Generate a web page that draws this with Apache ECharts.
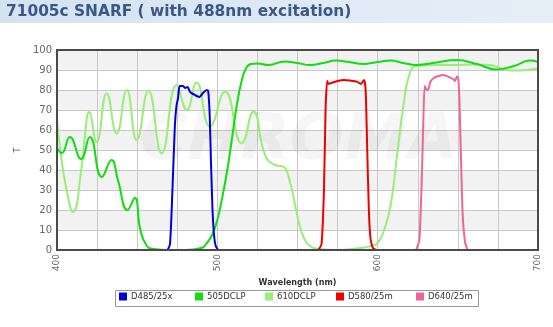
<!DOCTYPE html>
<html>
<head>
<meta charset="utf-8">
<script src="https://cdn.jsdelivr.net/npm/echarts@6/dist/echarts.min.js"></script>
<style>html,body{margin:0;padding:0;background:#fff}#c{width:553px;height:327px}</style>
</head>
<body>
<div id="c"></div>
<script>
const seriesNames = ['D485/25x', '505DCLP', '610DCLP', 'D580/25m', 'D640/25m'];
const seriesColors = ['#0000dd', '#11dd11', '#99ee77', '#ee0000', '#ee6699'];

const d485Wl = [469, 470.5, 472, 473.5, 474.5, 475.5, 476.5, 478.5, 480, 481.5, 483, 486, 488.8, 491.3, 493.4, 494.3, 495.2, 496, 497, 498, 499, 500.5];
const d485T  = [0, 3, 30, 62, 72, 76, 82, 82, 81, 81.5, 79, 77.5, 76.5, 78.7, 80, 79.5, 68, 45, 20, 7, 2, 0];

const dclp505Wl = [400, 403, 408, 415, 420.5, 428, 434, 438, 444, 448.5, 452, 456, 460, 470, 480, 490, 494, 497, 500, 503, 506, 509, 512, 515, 518, 521, 525, 532, 542, 550, 558, 566, 574, 582, 591, 600, 608, 616, 624, 637, 649, 662, 674, 685, 695, 700];
const dclp505T  = [51, 48.5, 56.5, 45.5, 56.5, 36.5, 45, 35, 20, 26, 10, 2, 0.5, 0, 0, 1, 4, 8, 15, 26, 39, 55, 71.7, 84, 91, 93, 93.3, 92.5, 94.3, 93.5, 92.5, 93.5, 94.7, 94, 93, 94, 94.7, 93.5, 92.5, 93.8, 95, 93, 90.3, 92, 94.7, 94];

const dclp610Wl = [400, 402, 406, 410, 415.4, 417.5, 420, 424.7, 431, 437.2, 443.5, 449.7, 457, 465.3, 474.7, 481, 487, 495.4, 504.8, 515.2, 522.5, 529.8, 536, 541, 545, 550.5, 554, 558, 563, 575, 587, 595, 600, 604, 608, 612, 616, 620, 624.4, 635, 649, 660, 670, 680, 687, 695, 700];
const dclp610T  = [66, 50, 30, 19, 41.7, 58, 69, 54, 78.3, 58.3, 80, 55, 79.7, 48.3, 82.5, 70, 83.7, 61.7, 79.2, 53.3, 69.2, 47.5, 42.5, 41.7, 35, 15, 6, 2, 0.5, 0, 0.8, 1.8, 3.5, 10, 22, 46.7, 71.7, 88.3, 92, 92.5, 92.5, 92.8, 92.5, 90, 89.7, 90.3, 90.8];

const d580Wl = [563, 565, 566.5, 567.5, 568.5, 569.5, 571, 575, 579, 583, 587, 589.5, 591.5, 592.5, 593.5, 594.5, 595.5, 597, 599];
const d580T  = [0, 3, 30, 70, 84.5, 83, 83.5, 84.5, 85, 84.7, 84.2, 83, 85, 80, 50, 20, 6, 1, 0];

const d640Wl = [624, 626, 627.5, 628.5, 629.3, 630.3, 631.5, 632.8, 635, 638, 641, 644, 647, 648.3, 649.4, 650.3, 651, 652, 653, 654.5, 656];
const d640T  = [0, 5, 35, 65, 82, 80.5, 80, 84, 86, 87, 87.5, 86.7, 85.5, 84.5, 86.7, 85.5, 75, 45, 18, 4, 0];

const xTickLabels = [400, 500, 600, 700];
const yTickLabels = [0, 10, 20, 30, 40, 50, 60, 70, 80, 90, 100];

const pairs = (w, t) => w.map((x, i) => [x, t[i]]);
const allData = [
  pairs(d485Wl, d485T),
  pairs(dclp505Wl, dclp505T),
  pairs(dclp610Wl, dclp610T),
  pairs(d580Wl, d580T),
  pairs(d640Wl, d640T)
];
const smoothFlags = [0.2, 0.5, 0.5, 0.2, 0.2];
const drawOrder = [2, 1, 0, 3, 4];
const legendLeft = [119, 195, 265, 336, 416];

const FONT = 'DejaVu Sans, Verdana, sans-serif';
const chart = echarts.init(document.getElementById('c'), null, {renderer: 'canvas'});
chart.setOption({
  animation: false,
  backgroundColor: '#ffffff',
  textStyle: {fontFamily: FONT},
  graphic: [
    {type: 'rect', left: 0, top: 0, z: -10, shape: {width: 553, height: 23},
     style: {fill: new echarts.graphic.LinearGradient(0, 0, 1, 0, [{offset: 0, color: '#d3e3f2'}, {offset: 1, color: '#e6eff8'}])}},
    {type: 'text', left: 6, top: 4, z: 10,
     style: {text: '71005c SNARF ( with 488nm excitation)', fill: '#3b5786', font: 'bold 15.4px ' + FONT}},
    {type: 'text', left: 140, top: 110, z: 1, silent: true,
     style: {text: 'CHROMA', fill: 'rgba(0,0,0,0.035)', font: 'italic bold 64px ' + FONT}},
    {type: 'rect', left: 115, top: 290, z: 1, shape: {width: 363, height: 16},
     style: {fill: '#fff', stroke: '#999', lineWidth: 1}}
  ],
  grid: {left: 57, right: 15, top: 50, bottom: 77, show: true, borderColor: '#4a4a4a', borderWidth: 2, backgroundColor: 'transparent', z: 5},
  legend: seriesNames.map((n, i) => ({
    data: [n], left: legendLeft[i], top: 292, padding: 0,
    icon: 'rect', itemWidth: 8, itemHeight: 8, itemGap: 4, z: 5,
    textStyle: {fontSize: 8.5, color: '#333', fontFamily: FONT, padding: [0, 0, 0, -1]}
  })),
  xAxis: {
    type: 'value', min: 400, max: 700, interval: 25,
    name: 'Wavelength (nm)', nameLocation: 'middle', nameGap: 25,
    nameTextStyle: {fontSize: 8, fontWeight: 'bold', color: '#333'},
    axisLine: {show: false}, axisTick: {show: false},
    axisLabel: {rotate: 90, fontSize: 9, color: '#666', margin: 4,
      formatter: v => xTickLabels.includes(v) ? String(v) : ''},
    splitLine: {show: true, lineStyle: {color: '#c8c8c8', width: 1}}
  },
  yAxis: {
    type: 'value', min: 0, max: 100, interval: 10,
    name: 'T', nameLocation: 'middle', nameGap: 32, nameRotate: 90,
    nameTextStyle: {fontSize: 8, color: '#555'},
    axisLine: {show: false}, axisTick: {show: false},
    axisLabel: {fontSize: 10, color: '#666', margin: 5,
      formatter: v => yTickLabels.includes(v) ? String(v) : ''},
    splitLine: {show: true, lineStyle: {color: '#c8c8c8', width: 1}},
    splitArea: {show: true, areaStyle: {color: ['#ffffff', '#f2f2f2']}}
  },
  series: drawOrder.map(i => ({
    name: seriesNames[i], type: 'line', data: allData[i],
    smooth: smoothFlags[i], showSymbol: false, symbol: 'none',
    color: seriesColors[i],
    lineStyle: {color: seriesColors[i], width: 2}, z: 3
  }))
});
</script>
</body>
</html>
